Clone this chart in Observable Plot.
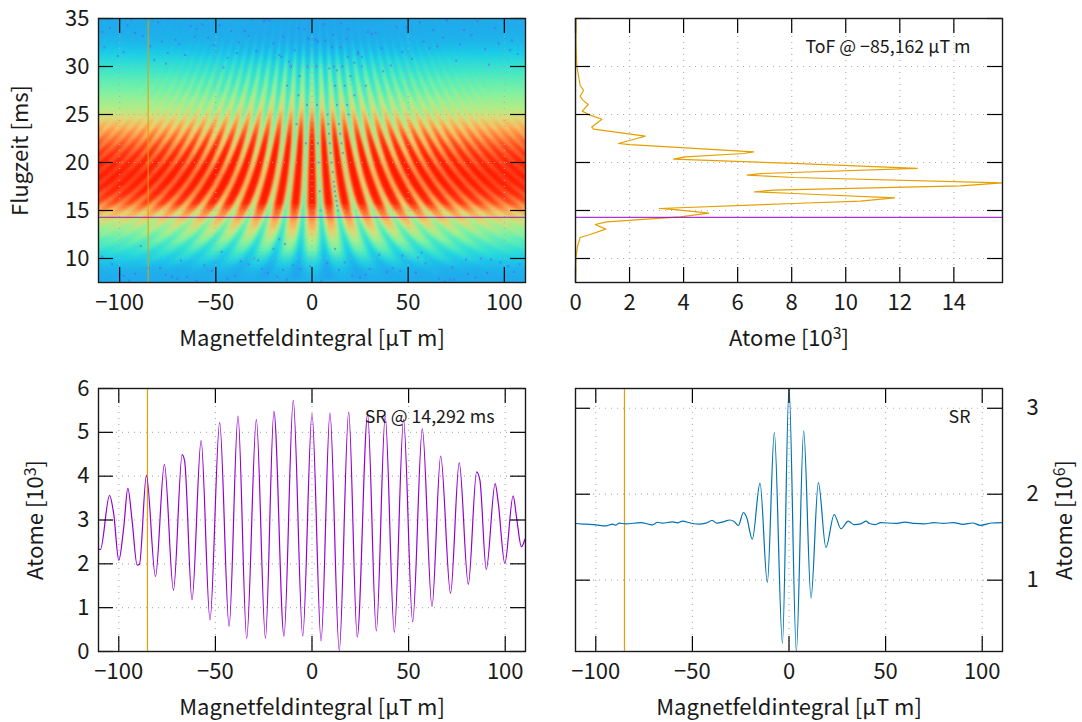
<!DOCTYPE html>
<html><head><meta charset="utf-8">
<script src="https://cdn.jsdelivr.net/npm/d3@7"></script>
<script src="https://cdn.jsdelivr.net/npm/@observablehq/plot@0.6"></script>
<style>
html,body{margin:0;padding:0;background:#fff}
#root{position:relative;width:1082px;height:722px;overflow:hidden}
#root svg{position:absolute;overflow:visible}
</style></head><body><div id="root"></div>
<script>
const FONT = "'Noto Sans CJK JP','Noto Sans',sans-serif";
const xLabel = "Magnetfeldintegral [µT m]";
const xTicks = [-100,-50,0,50,100];
const heatYTicks = [10,15,20,25,30,35];
const tofXTicks = [0,2,4,6,8,10,12,14];
const srAtomTicks = [0,1,2,3,4,5,6];
const sumTicks = [1,2,3];
const cutField = -85.162, cutTime = 14.292;
const ORANGE="#e69f00", VIOLET="#9400d3", BLUE="#0072b2";

// ridge (bright) level, rows top→bottom from 34.5 ms to 8 ms, columns edge→centre
const ridgeRows = [
[1.2,1.2,1.2,1.2,1.2],[1.3,1.3,1.3,1.3,1.3],[1.5,1.5,1.5,1.5,1.5],[1.9,1.9,1.9,2,2.1],[2.5,2.6,2.6,2.8,3],
[3.1,3.1,3.2,3.5,3.9],[3.6,3.7,3.8,4,4.4],[4,4.1,4.2,4.5,4.8],[4.6,4.7,4.9,5.2,5.5],[5.1,5.3,5.5,5.9,6.2],
[5.9,6.1,6.4,6.9,7.4],[6.9,7.1,7.5,8,8.5],[7.8,8,8.5,8.9,9.3],[8.6,8.8,9.2,9.6,9.9],[9.2,9.4,9.7,9.9,10],
[9.6,9.7,9.9,10,10],[9.8,9.9,10,10,10],[9.7,9.8,10,10,10],[9.3,9.5,9.8,10,10],[8.5,8.9,9.4,9.7,10],
[6.8,7.2,7.6,8,8.3],[5.6,5.9,6.3,6.7,7.1],[4.6,4.9,5.3,5.7,6.2],[3.7,4,4.3,4.7,5.1],[2.9,3.1,3.3,3.7,4.1],
[2,2.2,2.3,2.5,2.8],[1.4,1.4,1.5,1.6,1.8],[1.2,1.2,1.2,1.3,1.4]];
// trough (dark fringe) level, same rows and columns
const troughRows = [
[1.2,1.2,1.2,1.1,1],[1.3,1.3,1.2,1.1,1],[1.5,1.4,1.3,1.2,1],[1.9,1.8,1.5,1.3,1.2],[2.5,2.4,2.1,1.8,1.5],
[3.1,2.9,2.6,2.2,1.9],[3.5,3.4,3,2.6,2.2],[3.9,3.7,3.3,2.9,2.5],[4.4,4.2,3.8,3.2,2.7],[4.9,4.6,4.1,3.4,2.9],
[5.5,5.1,4.5,3.7,3],[6.3,5.8,5,4,3.2],[7.1,6.4,5.4,4.3,3.3],[7.8,7,5.9,4.6,3.4],[8.3,7.5,6.3,4.9,3.6],
[8.6,7.9,6.8,5.3,3.8],[8.8,8.1,7.1,5.7,4],[8.7,8,7,5.6,3.9],[8.3,7.7,6.7,5.3,3.7],[7.5,7,6,4.7,3.4],
[6.1,5.6,4.9,4,3.2],[5,4.6,4.2,3.6,2.9],[4.2,3.9,3.5,3.1,2.7],[3.4,3.2,2.9,2.6,2.3],[2.7,2.5,2.3,2.1,1.8],
[1.9,1.8,1.7,1.6,1.4],[1.4,1.3,1.3,1.2,1.1],[1.2,1.2,1.2,1.1,1]];
// dark-fringe positions [µT m] at these flight times (mirrored for negative field)
const fringeTimes   = [35,28,22,18,14.3,12,10,8];
const fringeSpacing = [3.88,4.85,6.18,7.55,9.5,11.32,13.59,16.98];
const fringes = [
[1.9,2.4,3.1,3.8,4.75,5.7,6.8,8.5],[5.8,7.3,9.2,11.3,14.2,16.9,20.3,25.4],[9.6,12.1,15.3,18.7,23.6,28.1,33.7,42.2],
[13.6,17,21.6,26.4,33.2,39.6,47.5,59.3],[17.4,21.8,27.8,33.9,42.7,50.9,61.1,76.3],[21.4,26.7,34,41.5,52.3,62.3,74.8,93.5],
[25.3,31.7,40.3,49.3,62,73.9,88.7,110.8],[29.3,36.6,46.5,56.9,71.6,85.3,102.4,128],[33.1,41.4,52.7,64.3,81,96.5,115.8,144.8],
[36.9,46.2,58.8,71.8,90.4,107.7,129.3,161.6],[40.8,51,64.9,79.4,99.9,119,142.9],[44.6,55.8,71,86.7,109.2,130.1,156.2],
[48.5,60.6,77.2,94.3,118.7,141.5],[52.4,65.5,83.3,101.8,128.2],[56.3,70.3,89.5,109.4,137.7],[60.1,75.2,95.7,116.9,147.2],
[64,80,101.9,124.5],[67.9,84.9,108,132],[71.8,89.7,114.2],[75.7,94.6,120.4],[79.6,99.4,126.6],[83.4,104.3,132.7],
[87.3,109.1,138.9],[91.2,114,145.1],[95.1,118.8],[99,123.7],[102.8,128.5],[106.7,133.4],[110.6,138.2]];
const heatStops = ["#2b78f0","#22a3ee","#1ccfe8","#3ce6cc","#7bf2a6","#b2ee88","#efd272","#ffa650","#ff6c30","#ff3414","#ff1a00"];
// purple speckle read along the central dark fringes and in the low-signal bands
const speckX = [13.5,13.1,12.7,12.3,11.9,11.6,11.3,10.7,10.1,9.7,9.2,8.8,8.5,8.1,4.5,4,3.4,3.1,2.6,2.3,16,15.3,14.7,14,13,12,11.2,10.5,19,18.3,17,15.8,14.8,-3.2,-2.6,-2.2,-8,-7,-6.5,22,20,18.5,-11,-13,-16,28,26,24,-14,-17,-20,
-105,-92,-80,-71,-60,-48,-38,-25,-15,-4,6,18,29,44,58,70,83,95,104,-98,-84,-66,-54,-31,-9,11,36,52,77,100,-108,-75,-42,-20,3,24,63,90,
-101,-88,-76,-63,-51,-44,-35,-29,-22,-12,-2,9,15,26,33,41,49,61,68,75,86,97,107,-109,-94,-82,-69,-57,-46,-33,-17,-7,2,13,22,31,47,56,65,79,92,103,-96,-78,-61,-39,-24,-11,7,19,37,54,73,85,98,
-100,-85,-70,-52,-33,-18,-6,8,21,39,55,72,88,102,-92,-60,-28,14,47,80,-40,-10,30,66,-104,-76,
-109,-95,-79,-65,-47,-37,-23,-13,-1,12,25,35,46,59,69,81,93,105,-89,-73,-56,-44,-30,-15,5,17,28,42,57,74,91,108,-98,-68,-50,-26,-3,10,33,50,78,96];
const speckT = [15,15.5,16,16.5,17,17.5,18,19,20,21,22,23,24,25,15,17,20,22,26,30,21,22,23,24,26,28,30,32,25,26,28,30,32,22,26,30,24,27,29,27,29,31,30,28,31,28,30,31.5,11.5,12,11,
34,33.5,34.6,32.8,33.9,34.3,32.5,34.7,33.1,33.9,34.4,32.9,33.6,34.1,32.6,34.8,33.3,34,32.7,31.5,32.1,31.2,33,34.9,31.7,33.3,31.9,30.8,32.3,34.5,32,31.4,33.7,32.4,32.6,31.3,33.8,31.8,
31.1,33.2,30.3,34.2,32.2,30.9,33.7,31.6,34.8,30.5,32.9,29.8,34.5,31,33.5,30.1,34.1,31.9,33,30.6,34.7,32.4,31.3,33.6,34.9,30.7,32.3,34.4,29.9,33.2,31.2,34,32.8,29.6,30.4,33.4,31.5,34.6,32.1,33.8,30.2,31.7,34.3,32.6,33.1,31.4,34.9,30,32.7,33.9,29.5,
8.5,9.1,8,9.6,8.3,9,7.9,8.7,9.4,8.1,8.9,9.5,8.2,8.6,10.1,7.8,10,9.2,8.4,7.7,9.8,8.8,10.3,9.9,8.2,9.3,
8.9,7.9,9.4,8.3,10.2,7.7,9,8.1,10.7,9.7,8.5,7.8,9.2,11,8,10.4,8.7,9.5,7.6,8.4,9.9,8.6,11.3,8.1,9.3,7.9,10,8.8,7.7,9.6,8.3,9,10.6,7.8,8.5,9.4,8.2,9.8,7.6,8.9];

// SR @ 14,292 ms
const srX = [-110.3,-109.5,-104.8,-102.6,-100,-97.4,-95.3,-93.1,-90.5,-89.3,-85.7,-81,-76.4,-71.7,-67.2,-65.9,-62.1,-57.4,-52.8,-47.8,-42.9,-38.3,-33.8,-28.8,-24.1,-19.7,-14.5,-9.7,-4.8,0,4.7,9.3,14.1,19,23.4,28.8,33.3,37.9,42.6,47.4,52.1,57.1,62.1,66.6,71.7,76.2,80.9,85.2,86.9,90.2,94.8,96.4,99.8,104.1,105.9,108.4,110.2];
const srY = [2.33,2.33,3.56,3.13,2.08,2.85,3.72,2.98,1.97,1.99,4.02,1.71,4.27,1.4,4.49,4.34,1.18,4.81,.72,5.22,.58,5.37,.3,5.29,.3,5.48,.35,5.73,.35,5.43,.24,5.44,.02,5.46,.33,5.41,.47,5.37,.44,5.29,.68,5.08,1.03,4.46,1.33,4.31,1.53,4.1,3.91,1.87,3.83,3.39,2.01,3.55,3.05,2.39,2.56];
// ToF @ −85,162 µT m
const tofAtoms = [.02,.02,.05,.12,.17,.3,.17,.27,.47,.25,.54,.98,.6,.67,2.58,2.27,1.59,2.02,6.59,6.22,4.06,3.63,8.07,12.64,6.84,6.35,8.07,15.79,14.25,7.33,6.63,8.07,11.81,10.54,8.07,3.1,3.69,4.93,3.88,1.16,.73,1.12,.54,.17,.07,.02,0];
const tofTime  = [35,32.4,30,28.9,28.05,27.5,26.9,26.5,26.04,25.35,24.93,24.5,23.7,23.47,22.74,22.5,21.98,21.87,21.11,20.94,20.59,20.35,19.9,19.38,18.85,18.68,18.44,17.88,17.57,17.12,16.94,16.77,16.32,15.97,15.73,15.21,15.1,14.72,14.34,13.82,13.54,13.06,12.5,12.19,11.2,10.17,7.53];
// SR sum
const sumX = [-110.3,-105.1,-99.9,-94.8,-91.3,-89.6,-87.9,-84.4,-76.7,-70.6,-68,-65.5,-60.3,-57.7,-55.1,-50.8,-46.5,-43.1,-39.7,-37.4,-33.6,-30.7,-28.4,-26.2,-23.6,-21.9,-19,-15,-11.2,-7.6,-3.4,0,3.8,7.6,11.4,15.2,19.1,23.4,26.9,30.7,33.6,37.1,40,41.4,44.8,47.4,55,60,65,70,75,80,85,90,95,99,105,110];
const sumY = [1.659,1.651,1.643,1.632,1.651,1.64,1.663,1.655,1.67,1.643,1.674,1.663,1.678,1.667,1.686,1.663,1.651,1.663,1.694,1.663,1.682,1.7,1.682,1.636,1.787,1.729,1.477,2.128,.973,2.717,.267,3.24,.17,2.736,.791,2.136,1.38,1.764,1.597,1.686,1.647,1.655,1.686,1.663,1.647,1.67,1.66,1.675,1.66,1.655,1.67,1.66,1.67,1.65,1.665,1.638,1.665,1.67];

const root = document.getElementById("root");
const TS = 15; // inward tick length
const FS = 22, FSI = 17.8;
function chrome(o){
  const {W,H,xt,yt,grid="#a8a8a8",gridOp=.9} = o;
  return {
    under:[
      Plot.gridX(xt,{stroke:grid,strokeOpacity:gridOp,strokeDasharray:"1,5",strokeWidth:1.2}),
      Plot.gridY(yt,{stroke:grid,strokeOpacity:gridOp,strokeDasharray:"1,5",strokeWidth:1.2})
    ],
    over:[
      Plot.tickX(xt,{x:d=>d,insetBottom:H-TS,stroke:"#000",strokeWidth:1.2}),
      Plot.tickX(xt,{x:d=>d,insetTop:H-TS,stroke:"#000",strokeWidth:1.2}),
      Plot.tickY(yt,{y:d=>d,insetRight:W-TS,stroke:"#000",strokeWidth:1.2}),
      Plot.tickY(yt,{y:d=>d,insetLeft:W-TS,stroke:"#000",strokeWidth:1.2}),
      Plot.frame({stroke:"#1a1a1a",strokeWidth:1.4})
    ]
  };
}
function panel(o){
  const {box,inner,x,y,color,marks} = o;
  const p = Plot.plot({
    width:box[2],height:box[3],
    marginLeft:inner[0]-box[0],marginTop:inner[1]-box[1],
    marginRight:box[0]+box[2]-inner[2],marginBottom:box[1]+box[3]-inner[3],
    x,y,color,marks,
    style:{fontFamily:FONT,fontSize:"20px",background:"transparent",color:"#1a1a1a"}
  });
  p.style.left=box[0]+"px";p.style.top=box[1]+"px";
  root.appendChild(p);
  d3.select(p).selectAll("text").each(function(){
    const s=this.textContent, m=s.match(/^(.*10)([³⁶])(\])$/);
    if(!m) return;
    const sel=d3.select(this); sel.text(m[1]);
    sel.append("tspan").attr("dy","-0.42em").attr("font-size","0.72em").text(m[2]==="³"?"3":"6");
    sel.append("tspan").attr("dy","0.3em").text("]");
  });
  return p;
}
const xTitle = (dy,s=xLabel)=>Plot.text([s],{frameAnchor:"bottom",dy,fontSize:FS,lineAnchor:"middle"});

// ---- heat map ----
const mirror = r => [...r,...r.slice(0,4).reverse()];
const LEVELS = [0,.25,.5,.75,1];
const WIDTHS = [0,.64,.44,.3,.16];
const gridAt = k => ridgeRows.flatMap((r,i)=>mirror(r.map((v,j)=>v+(troughRows[i][j]-v)*k)));
const bandRows = [];
fringes.forEach((xs,f)=>[1,-1].forEach(sgn=>xs.forEach((v,i)=>bandRows.push({id:f*sgn+sgn*.5,x:sgn*v,t:fringeTimes[i],s:fringeSpacing[i]}))));
const A = {box:[0,0,550,361],inner:[98,18,525,282]};
const cA = chrome({W:A.inner[2]-A.inner[0],H:A.inner[3]-A.inner[1],xt:xTicks,yt:heatYTicks,grid:"#b0a8a8",gridOp:.9});
const pA = panel({...A,
  x:{domain:[-111,111],axis:null},y:{domain:[7.5,35],axis:null},
  color:{type:"linear",domain:d3.range(11),range:heatStops,clamp:true,interpolate:"rgb"},
  marks:[
    ...LEVELS.map(k=>Plot.raster(gridAt(k),{width:9,height:28,x1:-111,x2:111,y1:35,y2:7.5,fill:d=>d})),
    ...WIDTHS.slice(1).map(w=>Plot.areaX(bandRows,{z:"id",y:"t",x1:d=>d.x-d.s*w/2,x2:d=>d.x+d.s*w/2,fill:"#fff",curve:"catmull-rom"})),
    Plot.dot(speckX,{x:d=>d,y:(d,i)=>speckT[i],symbol:"square",r:1.15,fill:"#5c58f2",fillOpacity:.5,clip:true}),
    ...cA.under,
    Plot.ruleX([cutField],{stroke:ORANGE,strokeWidth:1.2,strokeOpacity:.85}),
    Plot.ruleY([cutTime],{stroke:VIOLET,strokeWidth:1.3,strokeOpacity:.7}),
    ...cA.over,
    Plot.axisX(xTicks,{tickSize:0,tickPadding:12,label:null,fontSize:FS}),
    Plot.axisY(heatYTicks,{tickSize:0,tickPadding:9,label:null,fontSize:FS}),
    xTitle(56),
    Plot.text(["Flugzeit [ms]"],{frameAnchor:"left",dx:-78,rotate:-90,textAnchor:"middle",lineAnchor:"middle",fontSize:FS})
  ]});
// move the fringe bands into masks of the trough layers
{
  const svg=d3.select(pA);
  const rasters=pA.querySelectorAll('g[aria-label="raster"]');
  const areas=pA.querySelectorAll('g[aria-label="area"]');
  const defs=svg.insert("defs",":first-child");
  areas.forEach((g,i)=>{
    const m=defs.append("mask").attr("id","fringeMask"+i).attr("maskUnits","userSpaceOnUse")
      .attr("x",0).attr("y",0).attr("width",550).attr("height",361);
    g.style.filter="blur(1.3px)";
    m.node().appendChild(g);
    rasters[i+1].setAttribute("mask","url(#fringeMask"+i+")");
  });
}
// ---- ToF ----
const B = {box:[550,0,532,361],inner:[575,18,1002,282]};
const cB = chrome({W:427,H:264,xt:tofXTicks,yt:heatYTicks});
panel({...B,x:{domain:[0,15.8],axis:null},y:{domain:[7.5,35],axis:null},marks:[
  ...cB.under,
  Plot.line(tofAtoms,{x:d=>d,y:(d,i)=>tofTime[i],stroke:ORANGE,strokeWidth:1.2}),
  Plot.ruleY([cutTime],{stroke:VIOLET,strokeWidth:1.3,strokeOpacity:.8}),
  ...cB.over,
  Plot.axisX(tofXTicks,{tickSize:0,tickPadding:12,label:null,fontSize:FS}),
  xTitle(56,"Atome [10³]"),
  Plot.text(["ToF @ −85,162 µT m"],{frameAnchor:"top-right",dx:-32,dy:29,fontSize:FSI,lineAnchor:"middle"})
]});
// ---- SR cut ----
const C = {box:[0,361,550,361],inner:[98,388,525,651]};
const cC = chrome({W:427,H:263,xt:xTicks,yt:srAtomTicks});
panel({...C,x:{domain:[-110.5,110.5],axis:null},y:{domain:[0,6],axis:null},marks:[
  ...cC.under,
  Plot.ruleX([cutField],{stroke:ORANGE,strokeWidth:1.2}),
  Plot.line(srY,{x:(d,i)=>srX[i],y:d=>d,stroke:VIOLET,strokeWidth:1.2,curve:"monotone-x"}),
  ...cC.over,
  Plot.axisX(xTicks,{tickSize:0,tickPadding:12,label:null,fontSize:FS}),
  Plot.axisY(srAtomTicks,{tickSize:0,tickPadding:9,label:null,fontSize:FS}),
  xTitle(56),
  Plot.text(["Atome [10³]"],{frameAnchor:"left",dx:-63,rotate:-90,textAnchor:"middle",lineAnchor:"middle",fontSize:FS}),
  Plot.text(["SR @ 14,292 ms"],{frameAnchor:"top-right",dx:-31,dy:29,fontSize:FSI,lineAnchor:"middle"})
]});
// ---- SR sum ----
const D = {box:[550,361,532,361],inner:[575,388,1002,651]};
const cD = chrome({W:427,H:263,xt:xTicks,yt:sumTicks});
panel({...D,x:{domain:[-110.5,110.5],axis:null},y:{domain:[.17,3.23],axis:null},marks:[
  ...cD.under,
  Plot.ruleX([cutField],{stroke:ORANGE,strokeWidth:1.2}),
  Plot.line(sumY,{x:(d,i)=>sumX[i],y:d=>d,stroke:BLUE,strokeWidth:1.2,curve:"monotone-x",clip:true}),
  ...cD.over,
  Plot.axisX(xTicks,{tickSize:0,tickPadding:12,label:null,fontSize:FS}),
  Plot.axisY(sumTicks,{anchor:"right",tickSize:0,tickPadding:24,tickFormat:d=>String(d),label:null,fontSize:FS}),
  xTitle(56),
  Plot.text(["Atome [10⁶]"],{frameAnchor:"right",dx:62,rotate:-90,textAnchor:"middle",lineAnchor:"middle",fontSize:FS}),
  Plot.text(["SR"],{frameAnchor:"top-right",dx:-32,dy:29,fontSize:FSI,lineAnchor:"middle"})
]});
</script></body></html>
